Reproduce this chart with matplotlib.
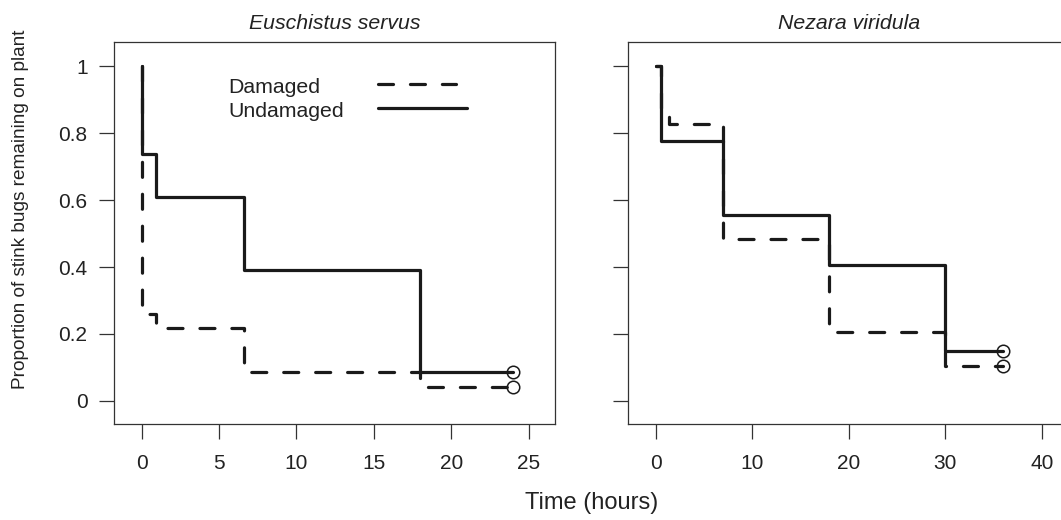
import matplotlib
matplotlib.use("Agg")
import matplotlib.pyplot as plt
from matplotlib.lines import Line2D

# ---- data ----
species = ["Euschistus servus", "Nezara viridula"]

es_dam_time = [0, 0.05, 0.9, 6.6, 18.0, 24.0]
es_dam_surv = [1.0, 0.261, 0.217, 0.087, 0.043, 0.043]
es_und_time = [0, 0.05, 0.9, 6.6, 18.0, 24.0]
es_und_surv = [1.0, 0.739, 0.609, 0.391, 0.087, 0.087]

nv_dam_time = [0, 0.5, 1.4, 7.0, 18.0, 30.0, 36.0]
nv_dam_surv = [1.0, 0.862, 0.828, 0.483, 0.207, 0.103, 0.103]
nv_und_time = [0, 0.5, 7.0, 18.0, 30.0, 36.0]
nv_und_surv = [1.0, 0.778, 0.556, 0.407, 0.148, 0.148]

yticks = [0, 0.2, 0.4, 0.6, 0.8, 1.0]
ytick_labels = ["0", "0.2", "0.4", "0.6", "0.8", "1"]
left_xticks = [0, 5, 10, 15, 20, 25]
right_xticks = [0, 10, 20, 30, 40]
legend_labels = ["Damaged", "Undamaged"]

plt.rcParams["font.family"] = ["Liberation Sans", "DejaVu Sans"]

W, H = 1061, 520
fig = plt.figure(figsize=(W / 100, H / 100), dpi=100)

ax_top, ax_bot = 42.3, 424.3
axw = 441
ax1 = fig.add_axes([114 / W, 1 - ax_bot / H, axw / W, (ax_bot - ax_top) / H])
ax2 = fig.add_axes([628.3 / W, 1 - ax_bot / H, axw / W, (ax_bot - ax_top) / H])

col = "#1a1a1a"
lw = 2.3
dash = (4.7, 5.3)

def draw(ax, dt, ds, ut, us):
    ax.step(dt, ds, where="post", color=col, lw=lw, dashes=dash,
            dash_capstyle="round", dash_joinstyle="round")
    ax.step(ut, us, where="post", color=col, lw=lw,
            solid_capstyle="round", solid_joinstyle="round")
    ax.plot([dt[-1]], [ds[-1]], marker="o", ms=9, mfc="none", mec=col, mew=1.1, ls="none")
    ax.plot([ut[-1]], [us[-1]], marker="o", ms=9, mfc="none", mec=col, mew=1.1, ls="none")

draw(ax1, es_dam_time, es_dam_surv, es_und_time, es_und_surv)
draw(ax2, nv_dam_time, nv_dam_surv, nv_und_time, nv_und_surv)

ax1.set_xlim(-1.79, 26.7)
ax2.set_xlim(-2.84, 42.85)
for ax, xt in ((ax1, left_xticks), (ax2, right_xticks)):
    ax.set_ylim(-0.07, 1.072)
    ax.set_xticks(xt)
    ax.set_yticks(yticks)
    ax.tick_params(direction="out", length=10.5, width=0.9, color="#333333",
                   labelsize=15, labelcolor="#222222")
    ax.tick_params(axis="x", pad=11)
    ax.tick_params(axis="y", pad=8.5)
    for s in ax.spines.values():
        s.set_linewidth(0.9)
        s.set_color("#333333")
ax1.set_yticklabels(ytick_labels)
ax2.set_yticklabels([])

ax1.set_title(species[0], fontsize=15.3, style="italic", pad=9.6, color="#222222")
ax2.set_title(species[1], fontsize=15.3, style="italic", pad=9.6, color="#222222")

# legend (text left, key to the right, as in the original)
ax1.text(0.2585, 0.8665, legend_labels[0], transform=ax1.transAxes, fontsize=15.3,
         va="baseline", ha="left", color="#222222")
ax1.text(0.2585, 0.805, legend_labels[1], transform=ax1.transAxes, fontsize=15.3,
         va="baseline", ha="left", color="#222222")
ax1.add_line(Line2D([0.5986, 0.775], [0.890, 0.890], transform=ax1.transAxes, color=col,
                    lw=lw, dashes=dash, dash_capstyle="round"))
ax1.add_line(Line2D([0.5986, 0.800], [0.829, 0.829], transform=ax1.transAxes, color=col,
                    lw=lw, solid_capstyle="round"))

fig.text(591.5 / W, 1 - 509 / H, "Time (hours)", fontsize=17, ha="center",
         va="baseline", color="#222222")
fig.text(21 / W, 1 - 209 / H, "Proportion of stink bugs remaining on plant",
         fontsize=13.7, rotation=90, ha="center", va="center", color="#222222")

fig.savefig("out.png", dpi=100)
